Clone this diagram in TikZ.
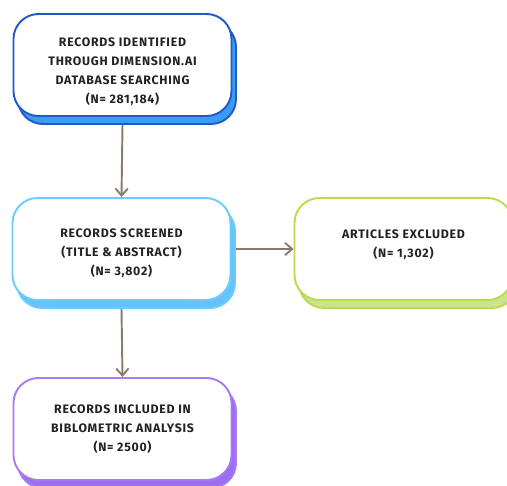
\documentclass[tikz,border=0pt]{standalone}
\usepackage{fontspec}
\setmainfont{Fira Sans}[LetterSpace=6]
\usetikzlibrary{shadows, arrows.meta}

\definecolor{blueA}{HTML}{1E5BC6}
\definecolor{blueAfill}{HTML}{3D9BF5}
\definecolor{blueB}{HTML}{6CCBFF}
\definecolor{blueBfill}{HTML}{66C2FA}
\definecolor{limeC}{HTML}{B8DC50}
\definecolor{limeCfill}{HTML}{CDE58A}
\definecolor{purpD}{HTML}{A77BF3}
\definecolor{purpDfill}{HTML}{9C6EF0}
\definecolor{arrowcol}{HTML}{8B7B6B}
\definecolor{textcol}{HTML}{222222}

\newcommand{\topgap}[1]{\rule{0pt}{#1}}

\tikzset{
    box/.style={draw=#1, fill=white, line width=1.1pt, rounded corners=0.5cm,
        minimum width=4.36cm, minimum height=2.04cm, align=center,
        text=textcol, font=\fontsize{7}{10.8}\selectfont\bfseries},
    boxshadow/.style 2 args={copy shadow={shadow xshift=0.09cm, shadow yshift=-0.16cm,
        fill=#2, draw=#1, line width=1.1pt}},
    flow/.style={draw=arrowcol, line width=1.1pt, -{Straight Barb[length=4pt,width=7pt]}}
}

\begin{document}
\begin{tikzpicture}
    \clip (0,0) rectangle (10.14,9.7);
    \useasboundingbox (0,0) rectangle (10.14,9.7);

    \node[box=blueA, boxshadow={blueA}{blueAfill}] at (2.45,8.4) (Ident)
        {\topgap{0.45cm}RECORDS IDENTIFIED\\THROUGH DIMENSION.AI\\DATABASE SEARCHING\\(N= 281,184)};
    \node[box=blueB, boxshadow={blueB}{blueBfill}] at (2.43,4.72) (Screen)
        {\topgap{0.33cm}RECORDS SCREENED\\(TITLE \& ABSTRACT)\\(N= 3,802)};
    \node[box=limeC, boxshadow={limeC}{limeCfill}] at (8.07,4.72) (Excl)
        {\topgap{0.33cm}ARTICLES EXCLUDED\\(N= 1,302)\\\mbox{}};
    \node[box=purpD, boxshadow={purpD}{purpDfill}] at (2.45,1.12) (Incl)
        {RECORDS INCLUDED IN\\BIBLOMETRIC ANALYSIS\\(N= 2500)};

    \draw[flow] ([yshift=-0.16cm]Ident.south) -- (Screen.north);
    \draw[flow] ([xshift=0.09cm]Screen.east) -- (Excl.west);
    \draw[flow] ([yshift=-0.16cm]Screen.south) -- (Incl.north);
\end{tikzpicture}
\end{document}
